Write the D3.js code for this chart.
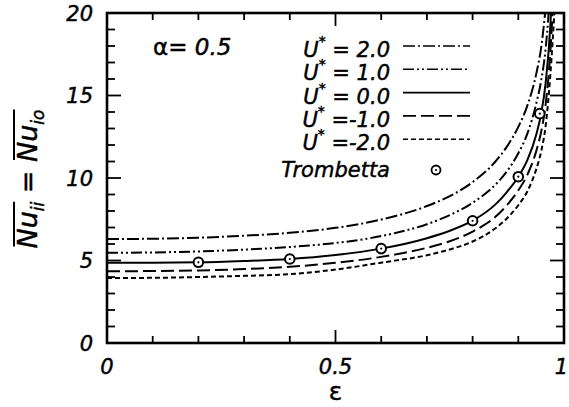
<!DOCTYPE html>
<html>
<head>
<meta charset="utf-8">
<script src="https://cdn.jsdelivr.net/npm/d3@7"></script>
<style>
  body { margin: 0; background: #fff; }
  svg { display: block; }
  text { font-family: "DejaVu Sans", sans-serif; font-style: italic; fill: #000; stroke: #000; stroke-width: 0.45px; }
</style>
</head>
<body>
<div id="chart"></div>
<script>
// values
const eps = [0, 0.1, 0.2, 0.3, 0.4, 0.5, 0.6, 0.7, 0.75, 0.8, 0.85, 0.875, 0.9, 0.92, 0.94, 0.95, 0.96, 0.97, 0.98];
const nuU2  = [6.30, 6.32, 6.38, 6.50, 6.68, 6.98, 7.48, 8.30, 8.90, 9.75, 11.0, 11.9, 13.1, 14.4, 16.4, 17.9, 20.4, 24.0, 30.0];
const nuU1  = [5.47, 5.49, 5.55, 5.66, 5.82, 6.06, 6.48, 7.20, 7.75, 8.50, 9.60, 10.4, 11.5, 12.7, 14.6, 15.9, 17.9, 21.6, 28.0];
const nuU0  = [4.87, 4.87, 4.89, 4.97, 5.09, 5.33, 5.72, 6.35, 6.80, 7.41, 8.40, 9.15, 10.08, 11.1, 12.7, 13.9, 15.8, 19.2, 26.0];
const nuUm1 = [4.35, 4.36, 4.40, 4.48, 4.62, 4.86, 5.22, 5.77, 6.17, 6.75, 7.65, 8.35, 9.25, 10.2, 11.7, 12.8, 14.5, 17.6, 23.0];
const nuUm2 = [3.94, 3.95, 4.00, 4.07, 4.17, 4.45, 4.87, 5.32, 5.67, 6.15, 6.95, 7.55, 8.35, 9.2, 10.6, 11.6, 13.2, 16.2, 20.5];

const trombEps = [0.2, 0.4, 0.6, 0.8, 0.9, 0.947];
const trombNu  = [4.89, 5.09, 5.72, 7.41, 10.08, 13.9];

const seriesLabels = ['2.0', '1.0', '0.0', '-1.0', '-2.0'];
const seriesDash = ['12,3,2,3', '11,3,2,3,2,3', null, '13,5', '5,3'];
const seriesValues = [nuU2, nuU1, nuU0, nuUm1, nuUm2];

const xTicks = [0, 0.5, 1];
const xTickLabels = ['0', '0.5', '1'];
const yTicks = [0, 5, 10, 15, 20];

const W = 569, H = 407;
const margin = { top: 13, right: 5, bottom: 64, left: 107 };

const svg = d3.select('#chart').append('svg')
    .attr('width', W)
    .attr('height', H);

const x = d3.scaleLinear().domain([0, 1]).range([margin.left, W - margin.right]);
const y = d3.scaleLinear().domain([0, 20]).range([H - margin.bottom, margin.top]);

svg.append('clipPath').attr('id', 'plotClip')
    .append('rect')
    .attr('x', x(0)).attr('y', y(20))
    .attr('width', x(1) - x(0)).attr('height', y(0) - y(20));

// curves
const line = d3.line()
    .x(d => x(d[0]))
    .y(d => y(d[1]))
    .curve(d3.curveMonotoneX);

const curves = svg.append('g').attr('clip-path', 'url(#plotClip)');
seriesValues.forEach((vals, i) => {
    curves.append('path')
        .datum(eps.map((e, k) => [e, vals[k]]))
        .attr('fill', 'none')
        .attr('stroke', '#000')
        .attr('stroke-width', 2)
        .attr('stroke-dasharray', seriesDash[i])
        .attr('d', line);
});

// Trombetta points
const dots = svg.append('g');
trombEps.forEach((e, i) => {
    dots.append('circle')
        .attr('cx', x(e)).attr('cy', y(trombNu[i]))
        .attr('r', 4.8)
        .attr('fill', '#fff')
        .attr('stroke', '#000')
        .attr('stroke-width', 2);
    dots.append('circle')
        .attr('cx', x(e)).attr('cy', y(trombNu[i]))
        .attr('r', 1.1)
        .attr('fill', '#000');
});

// frame + inward ticks on all sides
const tickW = 1.8;
const frame = svg.append('g').attr('stroke', '#000');
d3.range(0, 21, 1).forEach(v => {
    const len = v % 5 === 0 ? 14 : 8;
    frame.append('line').attr('x1', x(0)).attr('x2', x(0) + len)
        .attr('y1', y(v)).attr('y2', y(v)).attr('stroke-width', tickW);
    frame.append('line').attr('x1', x(1)).attr('x2', x(1) - len)
        .attr('y1', y(v)).attr('y2', y(v)).attr('stroke-width', tickW);
});
d3.range(0, 11, 1).forEach(k => {
    const v = k / 10;
    const len = k % 5 === 0 ? 13 : 7;
    frame.append('line').attr('x1', x(v)).attr('x2', x(v))
        .attr('y1', y(0)).attr('y2', y(0) - len).attr('stroke-width', tickW);
    frame.append('line').attr('x1', x(v)).attr('x2', x(v))
        .attr('y1', y(20)).attr('y2', y(20) + len).attr('stroke-width', tickW);
});
frame.append('rect')
    .attr('x', x(0)).attr('y', y(20))
    .attr('width', x(1) - x(0)).attr('height', y(0) - y(20))
    .attr('fill', 'none')
    .attr('stroke-width', 2.6);

// tick labels
svg.append('g').selectAll('text').data(yTicks).join('text')
    .attr('x', 93).attr('y', d => y(d))
    .attr('dy', '0.36em')
    .attr('text-anchor', 'end')
    .attr('font-size', 21)
    .text(d => d);

svg.append('g').selectAll('text').data(xTicks).join('text')
    .attr('x', d => d === 1 ? W - 1 : x(d)).attr('y', 374)
    .attr('text-anchor', d => d === 1 ? 'end' : 'middle')
    .attr('font-size', 21)
    .text((d, i) => xTickLabels[i]);

// x axis title
svg.append('text')
    .attr('x', x(0.5)).attr('y', 400)
    .attr('text-anchor', 'middle')
    .attr('font-size', 25)
    .style('font-style', 'normal')
    .text('ε');

// y axis title: Nu_ii = Nu_io with overlines, rotated
const yt = svg.append('g').attr('transform', 'translate(37,179) rotate(-90)');
const parts = [
    { t: 'Nu', size: 27, dy: 0, bar: 0 },
    { t: 'ii', size: 17, dy: 7, bar: 0 },
    { t: ' = ', size: 27, dy: 0, bar: -1 },
    { t: 'Nu', size: 27, dy: 0, bar: 1 },
    { t: 'io', size: 17, dy: 7, bar: 1 }
];
const widths = parts.map(p => {
    const t = yt.append('text').attr('font-size', p.size).style('white-space', 'pre').text(p.t);
    const w = t.node().getComputedTextLength();
    t.remove();
    return w;
});
const total = d3.sum(widths);
let cx = -total / 2;
const barSpan = { 0: [Infinity, -Infinity], 1: [Infinity, -Infinity] };
parts.forEach((p, i) => {
    yt.append('text')
        .attr('x', cx).attr('y', p.dy)
        .attr('font-size', p.size)
        .style('white-space', 'pre')
        .text(p.t);
    if (p.bar >= 0) {
        barSpan[p.bar][0] = Math.min(barSpan[p.bar][0], cx + 2);
        barSpan[p.bar][1] = Math.max(barSpan[p.bar][1], cx + widths[i]);
    }
    cx += widths[i];
});
[0, 1].forEach(b => {
    yt.append('line')
        .attr('x1', barSpan[b][0]).attr('x2', barSpan[b][1])
        .attr('y1', -23).attr('y2', -23)
        .attr('stroke', '#000').attr('stroke-width', 2);
});

// alpha annotation
const alpha = svg.append('text')
    .attr('x', 153).attr('y', 55)
    .attr('font-size', 23);
alpha.append('tspan').style('font-style', 'normal').text('α');
alpha.append('tspan').text('= 0.5');

// legend
const legX = 390, legLine = [403, 470];
seriesLabels.forEach((lab, i) => {
    const by = 57 + i * 23.3;
    const t = svg.append('text')
        .attr('x', legX).attr('y', by)
        .attr('text-anchor', 'end')
        .attr('font-size', 21)
        .style('white-space', 'pre');
    t.append('tspan').text('U');
    t.append('tspan').attr('dy', -11).attr('font-size', 14).text('*');
    t.append('tspan').attr('dy', 11).text(lab.startsWith('-') ? ' =' + lab : ' = ' + lab);

    svg.append('line')
        .attr('x1', legLine[0]).attr('x2', legLine[1])
        .attr('y1', by - 11).attr('y2', by - 11)
        .attr('stroke', '#000')
        .attr('stroke-width', 1.6)
        .attr('stroke-dasharray', seriesDash[i]);
});
svg.append('text')
    .attr('x', legX).attr('y', 177)
    .attr('text-anchor', 'end')
    .attr('font-size', 21)
    .text('Trombetta');
svg.append('circle').attr('cx', 436).attr('cy', 170).attr('r', 4.5)
    .attr('fill', '#fff').attr('stroke', '#000').attr('stroke-width', 1.8);
svg.append('circle').attr('cx', 436).attr('cy', 170).attr('r', 1.1).attr('fill', '#000');
</script>
</body>
</html>
